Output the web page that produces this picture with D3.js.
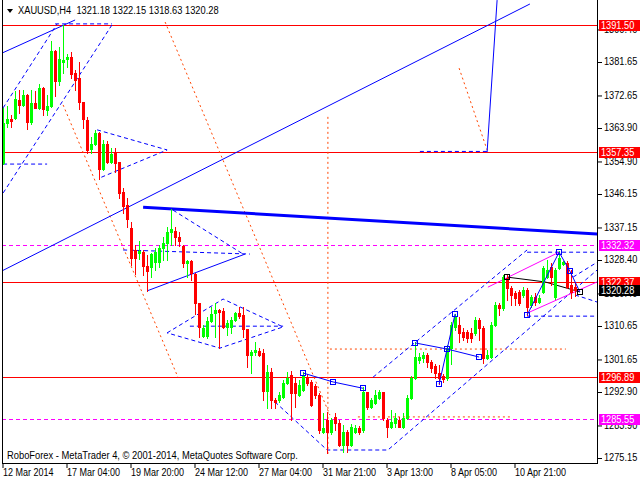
<!DOCTYPE html>
<html><head><meta charset="utf-8">
<script src="https://cdn.jsdelivr.net/npm/d3@7"></script>
<style>
html,body{margin:0;padding:0;background:#fff;}
svg{display:block;}
text{font-family:"Liberation Sans",Arial,sans-serif;}
</style></head><body>
<svg id="c" width="640" height="480"></svg>
<script>
// ---------------- DATA ----------------
const headerText = "XAUUSD,H4  1321.18 1322.15 1318.63 1320.28";
const footerText = "RoboForex - MetaTrader 4, \u00A9 2001-2014, MetaQuotes Software Corp.";

const open = [1354.5,1365.2,1366.3,1366.6,1371.4,1370.1,1372.8,1365.5,1370.6,1369.3,
1374.7,1368.7,1369.8,1384.6,1376.5,1381.7,1382.5,1383.0,1378.7,1377.3,
1370.9,1366.1,1358.2,1359.6,1362.6,1352.9,1359.6,1354.7,1357.2,1354.7,
1346.7,1343.2,1337.0,1331.1,1330.3,1330.5,1326.8,1326.5,1327.8,1327.8,
1331.6,1333.0,1335.9,1336.2,1334.6,1332.2,1327.6,1328.1,1324.6,1316.8,
1307.9,1307.9,1312.0,1314.1,1315.0,1314.7,1310.4,1310.4,1312.2,1314.1,
1313.6,1309.8,1302.8,1303.6,1303.9,1303.4,1293.2,1298.3,1290.7,1290.7,
1291.5,1295.3,1297.5,1295.3,1292.1,1293.4,1296.6,1295.6,1294.5,1292.1,
1282.1,1285.3,1282.1,1286.2,1284.5,1278.6,1282.1,1278.6,1282.1,1283.2,
1282.7,1292.9,1288.9,1289.9,1291.3,1292.9,1285.3,1283.5,1284.5,1285.3,
1283.5,1285.9,1291.3,1296.6,1301.5,1302.0,1302.8,1301.0,1299.9,1298.0,
1297.2,1296.6,1304.7,1310.4,1310.9,1309.0,1309.0,1308.8,1308.8,1312.2,
1310.1,1302.0,1302.3,1310.9,1316.3,1315.5,1323.6,1320.9,1319.5,1319.8,
1319.0,1320.3,1316.3,1318.4,1317.1,1319.8,1323.8,1326.5,1318.4,1326.2,
1327.3,1327.6,1321.7,1321.18];
const high = [1369.3,1369.8,1367.4,1373.9,1374.1,1374.1,1373.0,1374.1,1373.9,1375.7,
1374.9,1372.8,1387.3,1384.8,1385.7,1391.5,1383.8,1384.3,1379.5,1381.7,
1371.0,1366.9,1361.5,1363.4,1362.8,1360.7,1360.4,1358.5,1358.5,1354.8,
1347.8,1345.1,1338.6,1332.4,1333.5,1331.1,1329.7,1330.3,1331.6,1332.4,
1334.6,1337.3,1342.1,1337.3,1335.9,1332.3,1328.4,1328.4,1324.9,1316.9,
1310.9,1313.1,1315.8,1316.8,1315.1,1315.5,1312.2,1313.1,1314.4,1315.8,
1315.8,1309.9,1304.2,1306.3,1304.7,1304.5,1300.2,1299.3,1291.3,1292.9,
1296.1,1298.3,1298.5,1296.6,1296.1,1298.3,1297.7,1296.1,1295.0,1292.6,
1287.2,1287.5,1285.9,1287.2,1285.3,1284.0,1282.7,1284.3,1284.0,1283.7,
1294.2,1293.0,1291.3,1293.4,1293.4,1293.0,1285.9,1288.0,1287.2,1286.2,
1287.2,1292.1,1297.2,1306.3,1303.4,1303.6,1303.4,1301.5,1300.4,1300.2,
1297.7,1305.5,1311.7,1313.9,1313.1,1310.1,1309.6,1310.1,1313.1,1312.8,
1310.6,1304.2,1311.7,1317.1,1316.8,1324.4,1324.4,1321.4,1320.1,1320.3,
1321.1,1320.9,1319.0,1319.5,1319.0,1326.8,1328.4,1327.6,1326.2,1330.8,
1328.1,1328.1,1325.7,1322.15];
const low = [1354.2,1364.2,1364.2,1366.4,1367.9,1369.8,1363.6,1365.0,1369.3,1369.0,
1367.4,1367.4,1369.6,1372.5,1375.5,1378.7,1380.3,1377.3,1374.1,1369.0,
1363.9,1357.2,1357.2,1359.3,1350.2,1352.6,1354.5,1354.5,1352.1,1345.1,
1341.0,1337.3,1327.0,1324.6,1328.7,1324.4,1320.1,1323.8,1325.7,1326.5,
1328.4,1328.4,1332.4,1332.4,1332.2,1326.5,1323.8,1323.0,1313.9,1307.7,
1307.7,1307.4,1311.7,1307.7,1304.7,1310.1,1308.2,1308.8,1312.0,1312.8,
1307.7,1299.6,1298.0,1302.8,1302.6,1290.7,1288.6,1288.6,1288.6,1290.2,
1291.3,1295.0,1285.3,1288.9,1291.8,1293.2,1294.8,1289.2,1291.3,1281.9,
1281.9,1276.5,1281.6,1282.7,1278.4,1276.8,1276.8,1278.4,1281.9,1281.6,
1282.1,1288.3,1288.6,1289.7,1291.0,1285.3,1280.8,1283.2,1283.5,1283.4,
1283.2,1285.6,1291.0,1296.4,1300.7,1301.0,1299.6,1298.3,1296.6,1295.0,
1295.6,1296.1,1300.4,1309.6,1306.3,1306.9,1306.3,1306.3,1308.2,1306.9,
1300.7,1301.8,1302.0,1310.6,1313.6,1315.0,1317.6,1316.3,1316.3,1316.3,
1318.4,1313.6,1315.8,1316.3,1316.8,1319.5,1323.6,1321.7,1317.9,1326.0,
1327.0,1320.9,1318.2,1318.63];
const close = [1365.2,1366.3,1365.8,1371.7,1370.1,1372.8,1365.5,1370.6,1369.3,1374.7,
1369.0,1369.8,1384.6,1376.5,1382.5,1382.2,1383.0,1378.4,1376.8,1370.9,
1366.3,1358.0,1359.6,1362.6,1352.9,1359.6,1354.7,1356.9,1354.5,1346.4,
1342.9,1339.4,1328.9,1328.9,1330.8,1326.8,1325.4,1330.0,1330.5,1331.6,
1333.0,1335.9,1336.7,1334.6,1333.5,1327.6,1328.1,1324.9,1316.8,1310.4,
1310.1,1312.0,1313.9,1315.0,1314.4,1310.4,1311.4,1312.2,1314.1,1313.3,
1309.8,1302.8,1303.6,1304.2,1302.8,1293.2,1298.3,1290.7,1290.2,1292.1,
1295.3,1296.6,1292.6,1292.6,1294.8,1297.5,1295.3,1289.4,1292.1,1282.7,
1283.2,1282.1,1285.3,1284.5,1278.6,1282.1,1278.6,1283.5,1283.2,1282.1,
1292.9,1288.9,1290.7,1292.1,1292.9,1285.9,1283.5,1284.8,1285.9,1283.5,
1285.9,1291.3,1296.6,1302.3,1302.3,1302.8,1301.0,1299.3,1298.0,1296.6,
1296.4,1304.7,1310.9,1313.3,1308.8,1307.7,1307.4,1307.4,1312.2,1310.1,
1302.0,1302.8,1310.9,1316.3,1315.5,1323.8,1320.9,1319.0,1318.2,1316.8,
1320.3,1315.8,1318.4,1317.1,1318.2,1326.2,1325.7,1323.8,1325.7,1328.9,
1327.8,1321.1,1319.8,1320.28];

const xTickBars = [0,16,32,48,64,80,96,112,128];
const xTickLabels = ["12 Mar 2014","17 Mar 04:00","19 Mar 20:00","24 Mar 12:00","27 Mar 04:00",
  "31 Mar 21:00","3 Apr 13:00","8 Apr 05:00","10 Apr 21:00"];
const yTickValues = [1390.40,1381.65,1372.65,1363.90,1354.90,1346.15,1337.15,1328.40,
  1319.40,1310.65,1301.65,1292.90,1283.90,1275.15];

const redLevels = [1391.50,1357.35,1322.37,1296.89];
const magentaLevels = [1332.32,1285.55];
const lastPrice = 1320.28;

// drawn objects, points as [bar index, price]
const blueThinLines = [
  [[-0.875,1325.2],[131.6,1397.25]],
  [[-0.875,1383.8],[17.9,1392.95]],
  [[35.9,1320.1],[60.4,1330.0]],
  [[120.9,1357.4],[123.4,1398.3]]
];
const blueThickLine = [[34.9,1342.6],[148.4,1335.4]];
const blueDashedPaths = [
  [[27.1,1391.6],[-0.1,1346.4]],
  [[-0.1,1369.3],[13.4,1391.9]],
  [[12.9,1391.9],[27.1,1391.9]],
  [[-0.1,1354.2],[10.9,1354.2]],
  [[23.4,1363.4],[40.9,1358.0],[24.1,1350.5]],
  [[42.4,1341.8],[59.9,1330.0]],
  [[29.9,1331.1],[61.6,1330.0]],
  [[40.9,1308.8],[54.9,1317.9],[69.9,1310.4],[54.1,1304.7],[40.9,1308.8]],
  [[46.6,1310.6],[69.9,1310.6]],
  [[66.6,1291.5],[80.9,1277.3],[96.1,1277.3],[148.4,1325.7]],
  [[92.4,1296.9],[130.9,1331.1]],
  [[104.1,1357.6],[120.9,1357.6]],
  [[130.9,1330.5],[148.4,1330.5]],
  [[130.9,1313.3],[148.4,1313.3]],
  [[142.4,1323.8],[148.4,1327.8]],
  [[142.9,1319.0],[148.4,1317.1]]
];
const orangeDotted = [
  [[40.4,1392.4],[81.6,1286.7]],
  [[14.9,1370.1],[43.6,1296.9]],
  [[81.1,1366.9],[81.1,1275.9]],
  [[81.6,1304.45],[140.6,1304.45]],
  [[88.6,1286.2],[126.6,1286.2]],
  [[113.9,1380.0],[120.9,1358.0]]
];
const blueZigzags = [
  [[74.9,1298.0],[82.4,1295.6],[89.9,1293.9]],
  [[102.9,1306.1],[110.9,1304.45],[118.9,1302.3]],
  [[108.9,1295.0],[112.9,1313.9]],
  [[130.9,1313.6],[138.9,1330.5],[141.6,1325.4],[144.1,1319.8]]
];
const magentaLines = [
  [[121.1,1321.1],[138.9,1330.5]],
  [[130.9,1314.1],[148.4,1322.5]]
];
const blackZigzag = [[125.9,1323.8],[135.4,1322.5],[141.6,1320.6],[144.1,1319.8]];

// ---------------- DRAW ----------------
const svg = d3.select("#c");
const plotL = 2, plotR = 597, plotT = 0, plotB = 463;
const x = d3.scaleLinear().domain([0,148]).range([3.5,595.5]);
const y = d3.scaleLinear().domain([1275.15,1381.65]).range([458,62]);

function squeeze(sel, k){
  sel.each(function(){
    const w = this.getComputedTextLength();
    d3.select(this).attr("textLength", (w*k).toFixed(1)).attr("lengthAdjust","spacingAndGlyphs");
  });
}

svg.append("rect").attr("width",640).attr("height",480).attr("fill","#fff");
svg.append("defs").append("clipPath").attr("id","clip")
  .append("rect").attr("x",plotL).attr("y",plotT).attr("width",plotR-plotL).attr("height",plotB-plotT);

const g = svg.append("g").attr("clip-path","url(#clip)");
const line = d3.line().x(d=>x(d[0])).y(d=>y(d[1]));

// levels
g.selectAll(".red").data(redLevels).join("line")
  .attr("x1",plotL).attr("x2",plotR).attr("y1",d=>Math.round(y(d))+0.5).attr("y2",d=>Math.round(y(d))+0.5)
  .attr("stroke","#ff0000").attr("stroke-width",1);
g.selectAll(".mag").data(magentaLevels).join("line")
  .attr("x1",plotL).attr("x2",plotR).attr("y1",d=>Math.round(y(d))+0.5).attr("y2",d=>Math.round(y(d))+0.5)
  .attr("stroke","#ff00ff").attr("stroke-width",1).attr("stroke-dasharray","4,3");

// objects
g.selectAll(".od").data(orangeDotted).join("path").attr("d",line)
  .attr("fill","none").attr("stroke","#ff4500").attr("stroke-width",1).attr("stroke-dasharray","2,3");
g.selectAll(".bd").data(blueDashedPaths).join("path").attr("d",line)
  .attr("fill","none").attr("stroke","#0000ff").attr("stroke-width",1).attr("stroke-dasharray","4,3");
g.selectAll(".bt").data(blueThinLines).join("path").attr("d",line)
  .attr("fill","none").attr("stroke","#0000ff").attr("stroke-width",1);
g.append("path").attr("d",line(blueThickLine))
  .attr("fill","none").attr("stroke","#0000ff").attr("stroke-width",3);
g.selectAll(".ml").data(magentaLines).join("path").attr("d",line)
  .attr("fill","none").attr("stroke","#ff00ff").attr("stroke-width",1);
g.append("path").attr("d",line(blackZigzag))
  .attr("fill","none").attr("stroke","#000").attr("stroke-width",1);

// candles
const idx = d3.range(open.length);
const cg = g.append("g");
cg.selectAll(".wick").data(idx).join("line")
  .attr("x1",i=>x(i)).attr("x2",i=>x(i))
  .attr("y1",i=>Math.round(y(high[i]))).attr("y2",i=>Math.round(y(low[i]))+1)
  .attr("stroke",i=>close[i]>=open[i]?"#00ff00":"#ff0000").attr("stroke-width",1);
cg.selectAll(".body").data(idx).join("rect")
  .attr("x",i=>x(i)-1.5).attr("width",3)
  .attr("y",i=>Math.round(y(Math.max(open[i],close[i]))))
  .attr("height",i=>Math.max(1,Math.round(Math.abs(y(open[i])-y(close[i])))+1))
  .attr("fill",i=>close[i]>=open[i]?"#00ff00":"#ff0000");

// zigzags on top
g.selectAll(".bz").data(blueZigzags).join("path").attr("d",line)
  .attr("fill","none").attr("stroke","#0000ff").attr("stroke-width",1);
const sq = blueZigzags.flat();
g.selectAll(".sq").data(sq).join("rect")
  .attr("x",d=>Math.round(x(d[0]))-2.5).attr("y",d=>Math.round(y(d[1]))-2.5)
  .attr("width",5).attr("height",5).attr("fill","none").attr("stroke","#0000ff");
g.selectAll(".sqk").data([blackZigzag[0],blackZigzag[blackZigzag.length-1]]).join("rect")
  .attr("x",d=>Math.round(x(d[0]))-2.5).attr("y",d=>Math.round(y(d[1]))-2.5)
  .attr("width",5).attr("height",5).attr("fill","none").attr("stroke","#000");

// frame
svg.append("line").attr("x1",plotL+0.5).attr("x2",plotL+0.5).attr("y1",0).attr("y2",plotB+0.5).attr("stroke","#000");
svg.append("line").attr("x1",plotR+0.5).attr("x2",plotR+0.5).attr("y1",0).attr("y2",plotB+0.5).attr("stroke","#000");
svg.append("line").attr("x1",plotL).attr("x2",plotR+1).attr("y1",plotB+0.5).attr("y2",plotB+0.5).attr("stroke","#000");

// y axis
const yAxis = d3.axisRight(y).tickValues(yTickValues).tickFormat(d3.format(".2f")).tickSize(4).tickPadding(2).offset(0);
const ya = svg.append("g").attr("transform",`translate(${plotR+1},0)`).call(yAxis);
ya.select(".domain").remove();
ya.selectAll(".tick line").attr("stroke","#000").attr("transform","translate(0,0.5)");
ya.selectAll("text").attr("font-size",10).attr("fill","#000").attr("font-family","Liberation Sans, Arial, sans-serif");
squeeze(ya.selectAll("text"), 0.92);

// x axis
const xAxis = d3.axisBottom(x).tickValues(xTickBars).tickFormat((d,i)=>xTickLabels[i]).tickSize(4).tickPadding(1).offset(0);
const xa = svg.append("g").attr("transform",`translate(0,${plotB+1})`).call(xAxis);
xa.select(".domain").remove();
xa.selectAll(".tick line").attr("stroke","#000").attr("transform","translate(-0.5,0)");
xa.selectAll("text").attr("font-size",10).attr("fill","#000").attr("text-anchor","start")
  .attr("dx",-0.5).attr("font-family","Liberation Sans, Arial, sans-serif");
squeeze(xa.selectAll("text"), 0.9);

// price labels
const labels = redLevels.map(v=>({v,bg:"#ff0000"}))
  .concat(magentaLevels.map(v=>({v,bg:"#ff00ff"})))
  .concat([{v:lastPrice,bg:"#000000"}]);
const lg = svg.append("g");
labels.forEach(l=>{
  const yy = Math.round(y(l.v));
  lg.append("rect").attr("x",599).attr("y",yy-5).attr("width",41).attr("height",11).attr("fill",l.bg);
  const t = lg.append("text").attr("x",601).attr("y",yy+4).attr("font-size",10).attr("fill","#fff").text(d3.format(".2f")(l.v));
  squeeze(t, 0.92);
});

// header
svg.append("path").attr("d","M7,9 L13,9 L10,13 Z").attr("fill","#000");
const ht = svg.append("text").attr("x",18).attr("y",14).attr("font-size",10).attr("fill","#000")
  .style("white-space","pre").text(headerText);
squeeze(ht, 0.93);
// footer
const ft = svg.append("text").attr("x",7).attr("y",459).attr("font-size",10).attr("fill","#000").text(footerText);
squeeze(ft, 0.935);
</script>
</body></html>
